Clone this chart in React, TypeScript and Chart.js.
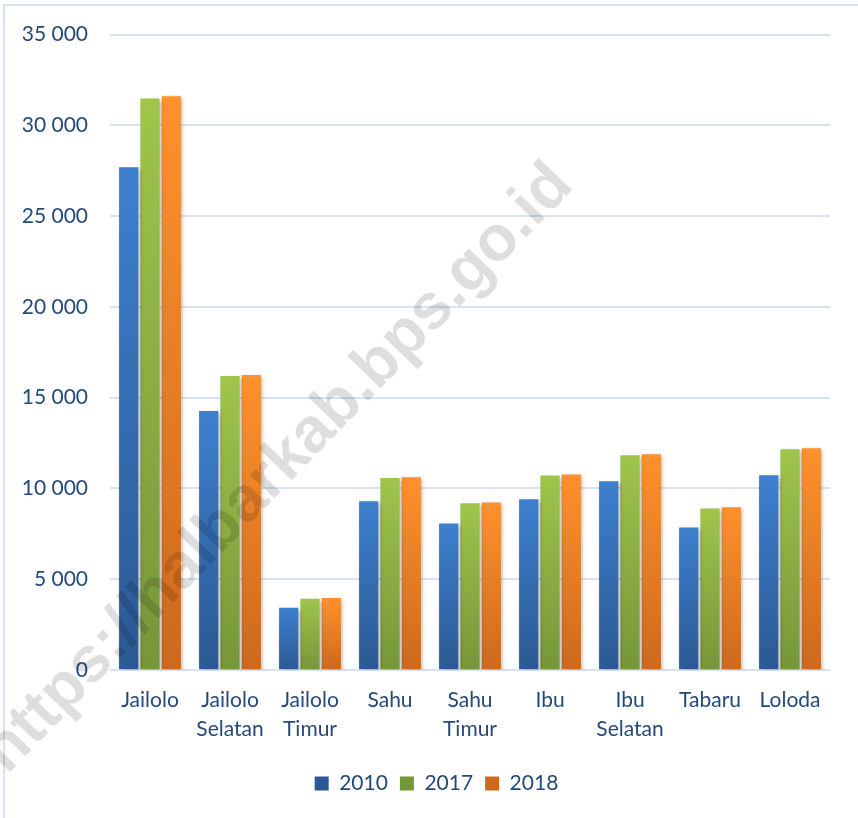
import React, { useEffect, useRef } from "react";
import { Chart, registerables } from "chart.js";

Chart.register(...registerables);

const categories: string[][] = [
  ["Jailolo"],
  ["Jailolo", "Selatan"],
  ["Jailolo", "Timur"],
  ["Sahu"],
  ["Sahu", "Timur"],
  ["Ibu"],
  ["Ibu", "Selatan"],
  ["Tabaru"],
  ["Loloda"],
];
const seriesNames = ["2010", "2017", "2018"];
const values2010 = [27700, 14270, 3430, 9290, 8070, 9400, 10400, 7850, 10730];
const values2017 = [31480, 16200, 3930, 10580, 9180, 10710, 11830, 8900, 12160];
const values2018 = [31610, 16250, 3960, 10620, 9230, 10770, 11890, 8960, 12220];
const yTickValues = [0, 5000, 10000, 15000, 20000, 25000, 30000, 35000];
const watermarkText = "https://halbarkab.bps.go.id";

const TEXT_COLOR = "#24497a";
const FONT = "Lato, 'Open Sans', sans-serif";

const palettes = [
  { top: "#3d80cf", bottom: "#2b5993", solid: "#3570b8" },
  { top: "#9fc54a", bottom: "#76963a", solid: "#8fb443" },
  { top: "#fe912e", bottom: "#cd691d", solid: "#f0822a" },
];

function gradientFor(p: { top: string; bottom: string; solid: string }) {
  return (ctx: any) => {
    if (ctx.type !== "data") return p.solid;
    const chart = ctx.chart;
    const y = chart.scales && chart.scales.y;
    if (!y) return p.solid;
    const v = ctx.raw as number;
    const top = y.getPixelForValue(v);
    const bottom = y.getPixelForValue(0);
    if (!isFinite(top) || !isFinite(bottom) || bottom - top < 1) return p.solid;
    const g = chart.ctx.createLinearGradient(0, top, 0, bottom);
    g.addColorStop(0, p.top);
    g.addColorStop(1, p.bottom);
    return g;
  };
}

const shadowPlugin = {
  id: "barShadow",
  beforeDatasetsDraw(chart: any) {
    const c = chart.ctx;
    c.save();
    c.shadowColor = "rgba(0,0,0,0.28)";
    c.shadowBlur = 4;
    c.shadowOffsetX = 1.5;
    c.shadowOffsetY = 2;
  },
  afterDatasetsDraw(chart: any) {
    chart.ctx.restore();
  },
};

const watermarkPlugin = {
  id: "watermark",
  afterDatasetsDraw(chart: any) {
    const c = chart.ctx;
    c.save();
    c.translate(291, 481);
    c.rotate((-46 * Math.PI) / 180);
    c.font = "bold 64px 'Liberation Sans', Arial, sans-serif";
    c.fillStyle = "rgba(0,0,0,0.13)";
    c.textAlign = "center";
    c.textBaseline = "alphabetic";
    c.fillText(watermarkText, 0, 0);
    c.restore();
  },
};

const legendShiftPlugin = {
  id: "legendShift",
  beforeDraw(chart: any) {
    if (chart.legend) {
      chart.legend.left = 43;
    }
  },
};

export default function App() {
  const ref = useRef<HTMLCanvasElement | null>(null);

  useEffect(() => {
    if (!ref.current) return;
    const allValues = [values2010, values2017, values2018];
    const chart = new Chart(ref.current, {
      type: "bar",
      data: {
        labels: categories,
        datasets: allValues.map((vals, i) => ({
          label: seriesNames[i],
          data: vals,
          backgroundColor: gradientFor(palettes[i]),
          borderWidth: 0,
          categoryPercentage: 0.8,
          barPercentage: 0.9,
        })),
      },
      options: {
        animation: false,
        responsive: false,
        maintainAspectRatio: false,
        layout: { padding: { left: 0, right: 28, top: 24, bottom: 14 } },
        plugins: {
          tooltip: { enabled: false },
          legend: {
            position: "bottom",
            labels: {
              boxWidth: 14,
              boxHeight: 14,
              padding: 12,
              color: TEXT_COLOR,
              font: { family: FONT, size: 21 },
            },
          },
        },
        scales: {
          x: {
            afterFit(scale: any) {
              scale.height = 91;
            },
            grid: { display: false },
            border: { display: false },
            ticks: {
              color: TEXT_COLOR,
              font: { family: FONT, size: 21, lineHeight: 1.38 },
              padding: 8,
              maxRotation: 0,
              autoSkip: false,
            },
          },
          y: {
            min: 0,
            max: 35000,
            afterFit(scale: any) {
              scale.width = 110;
            },
            afterBuildTicks(scale: any) {
              scale.ticks = yTickValues.map((v) => ({ value: v }));
            },
            grid: { color: "#d7e3f3", lineWidth: 2, drawTicks: false },
            border: { display: false },
            ticks: {
              color: TEXT_COLOR,
              font: { family: FONT, size: 21 },
              padding: 22,
              callback: (v: any) =>
                String(v).replace(/\B(?=(\d{3})+(?!\d))/g, " "),
            },
          },
        },
      },
      plugins: [shadowPlugin, watermarkPlugin, legendShiftPlugin],
    } as any);
    return () => chart.destroy();
  }, []);

  return (
    <div
      style={{
        position: "fixed",
        left: 0,
        top: 0,
        width: 858,
        height: 818,
        background: "#fff",
        overflow: "hidden",
      }}
    >
      <div
        style={{
          position: "absolute",
          left: 3,
          top: 4,
          width: 900,
          height: 900,
          border: "2px solid #d6e3f3",
        }}
      />
      <canvas
        ref={ref}
        width={858}
        height={818}
        style={{ position: "absolute", left: 0, top: 0, width: 858, height: 818 }}
      />
    </div>
  );
}
